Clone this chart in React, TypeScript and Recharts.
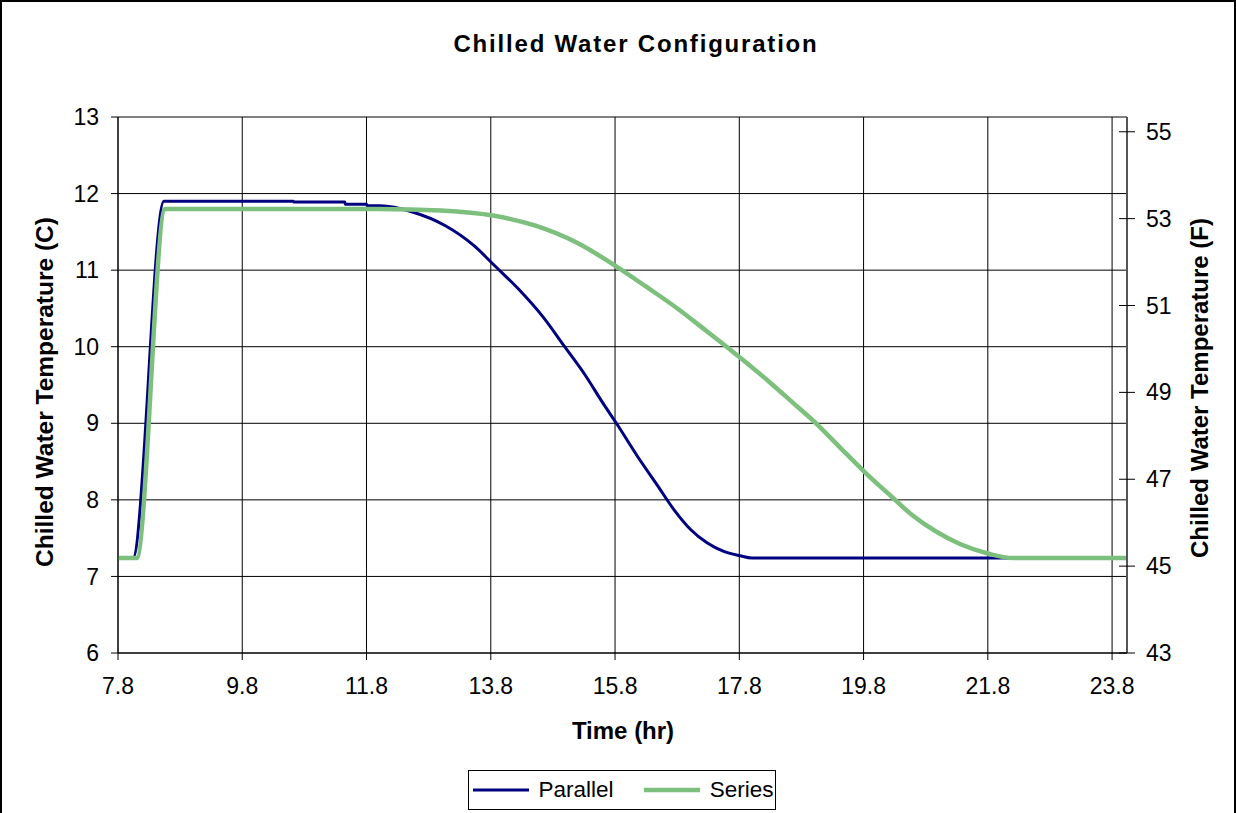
import React from "react"
import {
  LineChart,
  Line,
  XAxis,
  YAxis,
  CartesianGrid,
  Legend,
} from "recharts"

const FONT = "'Liberation Sans', Arial, sans-serif"

// time (hr) and chilled water temperature (C)
const parallelTime = [
  7.8, 8.04, 8.54, 10.62, 10.63, 11.45, 11.46, 11.8, 11.81, 12.02, 12.54, 13.07,
  13.53, 13.86, 14.25, 14.65, 14.98, 15.31, 15.6, 15.83, 16.16, 16.49, 16.75,
  17.02, 17.28, 17.54, 17.81, 18.0, 22.2,
]
const parallelTemp = [
  7.24, 7.24, 11.9, 11.9, 11.89, 11.89, 11.86, 11.86, 11.84, 11.84, 11.76, 11.58,
  11.32, 11.06, 10.75, 10.38, 10.01, 9.64, 9.27, 8.99, 8.57, 8.18, 7.87,
  7.61, 7.44, 7.33, 7.27, 7.24, 7.24,
]

const seriesTime = [
  7.8, 8.1, 8.56, 12.0, 13.0, 13.86, 14.52, 15.18, 15.8, 16.29, 16.82, 17.28,
  17.61, 17.81, 18.27, 18.66, 19.06, 19.45, 19.81, 20.24, 20.57, 20.96, 21.36,
  21.8, 22.21, 24.04,
]
const seriesTemp = [
  7.24, 7.24, 11.8, 11.8, 11.78, 11.71, 11.58, 11.36, 11.06, 10.79, 10.49, 10.2,
  9.99, 9.86, 9.55, 9.27, 8.98, 8.66, 8.37, 8.05, 7.81, 7.59, 7.42,
  7.3, 7.24, 7.24,
]

const timeTicks = [7.8, 9.8, 11.8, 13.8, 15.8, 17.8, 19.8, 21.8, 23.8]
const celsiusTicks = [6, 7, 8, 9, 10, 11, 12, 13]
const fahrenheitTicks = [43, 45, 47, 49, 51, 53, 55]

const parallelData = parallelTime.map((time, i) => ({ time, temp: parallelTemp[i] }))
const seriesData = seriesTime.map((time, i) => ({ time, temp: seriesTemp[i] }))

const PARALLEL_COLOR = "#000080"
const SERIES_COLOR = "#7dbf7d"

const tickStyle = { fontSize: 23, fill: "#000", fontFamily: FONT }

function RightTick(props: any) {
  const { x, y, payload } = props
  const axisX = x - 19
  return (
    <g>
      <line x1={axisX - 8} x2={axisX + 8} y1={y} y2={y} stroke="#000" strokeWidth={1} />
      <text x={x} y={y} dy="0.35em" textAnchor="start" {...tickStyle}>
        {payload.value}
      </text>
    </g>
  )
}

function LegendBox() {
  const item = (label: string, color: string, width: number) => (
    <div style={{ display: "flex", alignItems: "center" }}>
      <svg width={60} height={10} style={{ marginRight: 8 }}>
        <line x1={2} x2={58} y1={5} y2={5} stroke={color} strokeWidth={width} />
      </svg>
      <span>{label}</span>
    </div>
  )
  return (
    <div
      style={{
        boxSizing: "border-box",
        width: 308,
        height: 40,
        border: "1px solid #000",
        background: "#fff",
        display: "flex",
        alignItems: "center",
        justifyContent: "center",
        gap: 28,
        fontFamily: FONT,
        fontSize: 22.5,
        color: "#000",
      }}
    >
      {item("Parallel", PARALLEL_COLOR, 3)}
      {item("Series", SERIES_COLOR, 4.5)}
    </div>
  )
}

const titleStyle: React.CSSProperties = {
  position: "absolute",
  fontFamily: FONT,
  fontWeight: "bold",
  color: "#000",
  whiteSpace: "nowrap",
}

export default function App() {
  return (
    <div style={{ position: "absolute", left: 0, top: 0, width: 1236, height: 813, background: "#fff" }}>
      <LineChart
        width={1236}
        height={813}
        margin={{ top: 117, right: 49, bottom: 120, left: 48 }}
      >
        <CartesianGrid stroke="#000" yAxisId="left" />
        <XAxis
          dataKey="time"
          type="number"
          domain={[7.8, 24.04]}
          ticks={timeTicks}
          allowDataOverflow
          tickFormatter={(v) => v.toFixed(1)}
          tick={tickStyle}
          tickSize={7}
          tickMargin={18}
          height={40}
          stroke="#000"
        />
        <YAxis
          yAxisId="left"
          domain={[6, 13]}
          ticks={celsiusTicks}
          allowDataOverflow
          tick={tickStyle}
          tickSize={7}
          tickMargin={12}
          width={70}
          stroke="#000"
        />
        <YAxis
          yAxisId="right"
          orientation="right"
          domain={[43, 55.34]}
          ticks={fahrenheitTicks}
          allowDataOverflow
          tick={<RightTick />}
          tickLine={false}
          tickSize={0}
          tickMargin={19}
          width={60}
          axisLine={{ stroke: "#555", strokeWidth: 2 }}
        />
        <Legend
          verticalAlign="middle"
          align="center"
          layout="horizontal"
          wrapperStyle={{ top: 770, left: 468, width: 308, height: 40 }}
          content={() => <LegendBox />}
        />
        <Line
          yAxisId="left"
          data={parallelData}
          dataKey="temp"
          name="Parallel"
          type="monotone"
          stroke={PARALLEL_COLOR}
          strokeWidth={3}
          dot={false}
          activeDot={false}
          isAnimationActive={false}
        />
        <Line
          yAxisId="left"
          data={seriesData}
          dataKey="temp"
          name="Series"
          type="monotone"
          stroke={SERIES_COLOR}
          strokeWidth={4.5}
          dot={false}
          activeDot={false}
          isAnimationActive={false}
        />
      </LineChart>

      <div style={{ ...titleStyle, left: 18, width: 1236, top: 30, textAlign: "center", fontSize: 24, letterSpacing: 1.8 }}>
        Chilled Water Configuration
      </div>
      <div style={{ ...titleStyle, left: 5, width: 1236, top: 717, textAlign: "center", fontSize: 24 }}>
        Time (hr)
      </div>
      <div
        style={{
          ...titleStyle,
          left: 45,
          top: 392,
          fontSize: 24.5,
          transform: "translate(-50%, -50%) rotate(-90deg)",
        }}
      >
        Chilled Water Temperature (C)
      </div>
      <div
        style={{
          ...titleStyle,
          left: 1200,
          top: 388,
          fontSize: 24,
          transform: "translate(-50%, -50%) rotate(-90deg)",
        }}
      >
        Chilled Water Temperature (F)
      </div>
      <div
        style={{
          position: "absolute",
          left: 0,
          top: 0,
          width: 1236,
          height: 813,
          boxSizing: "border-box",
          borderTop: "2px solid #000",
          borderLeft: "2px solid #000",
          borderRight: "2px solid #000",
          pointerEvents: "none",
        }}
      />
    </div>
  )
}
